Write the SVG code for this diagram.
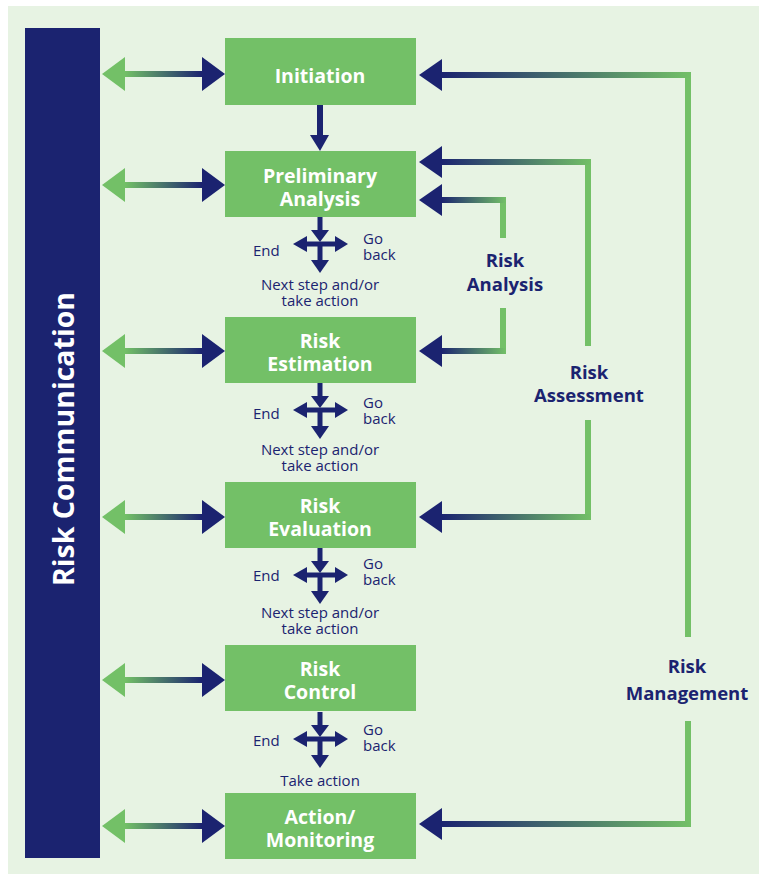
<svg xmlns="http://www.w3.org/2000/svg" width="759" height="874" viewBox="0 0 759 874">
<defs>
<linearGradient id="gL" gradientUnits="userSpaceOnUse" x1="125" y1="0" x2="202" y2="0">
<stop offset="0" stop-color="#73c067"/><stop offset="1" stop-color="#1b2370"/>
</linearGradient>
<linearGradient id="gR" x1="0" y1="0" x2="1" y2="0">
<stop offset="0" stop-color="#1b2370"/><stop offset="1" stop-color="#73c067"/>
</linearGradient>
<g id="lr">
<polygon points="102,0 125,-17 125,17" fill="#73c067"/>
<rect x="124" y="-3" width="79" height="6" fill="url(#gL)"/>
<polygon points="225,0 202,-17 202,17" fill="#1b2370"/>
</g>
<g id="cross" fill="#1b2370">
<rect x="-2.5" y="-27" width="5" height="14"/>
<polygon points="-9,-14 9,-14 0,-2"/>
<rect x="-14" y="-2.5" width="30" height="5"/>
<polygon points="-27,0 -13,-8 -13,8"/>
<polygon points="28,0 15,-8 15,8"/>
<rect x="-2.5" y="1" width="5" height="16"/>
<polygon points="-9,16 9,16 0,29"/>
</g>
<polygon id="hd" points="419,0 442,-16 442,16" fill="#1b2370"/>
</defs>
<style>
.box{fill:#73c067}
.bt{font-family:"Open Sans",Lato,"Liberation Sans",sans-serif;font-weight:bold;font-size:19.5px;fill:#ffffff;text-anchor:middle}
.st{font-family:"Open Sans",Lato,"Liberation Sans",sans-serif;font-size:15px;fill:#1b2370}
.mid{text-anchor:middle}
.lb{font-family:"Open Sans",Lato,"Liberation Sans",sans-serif;font-weight:bold;font-size:18.5px;fill:#1b2370;text-anchor:middle}
.gl{fill:#73c067}
</style>
<rect x="8" y="6" width="751" height="868" fill="#e7f3e3"/>
<g id="riskcomm">
<rect x="25" y="28" width="75" height="830" fill="#1b2370"/>
<text transform="translate(74,439) rotate(-90)" text-anchor="middle" font-family="'Open Sans',Lato,'Liberation Sans',sans-serif" font-weight="bold" font-size="28.5" fill="#ffffff">Risk Communication</text>
</g>
<g id="connectors">
<use href="#lr" y="74"/>
<use href="#lr" y="185"/>
<use href="#lr" y="351"/>
<use href="#lr" y="517"/>
<use href="#lr" y="680"/>
<use href="#lr" y="826"/>
<rect x="317" y="105" width="6" height="31" fill="#1b2370"/>
<polygon points="310,135 329,135 320,151" fill="#1b2370"/>
<use href="#cross" x="320" y="244"/>
<use href="#cross" x="320" y="410"/>
<use href="#cross" x="320" y="575"/>
<use href="#cross" x="320" y="739"/>
<rect class="gl" x="500" y="197" width="6" height="41"/>
<rect class="gl" x="500" y="308" width="6" height="46"/>
<rect x="441" y="197" width="65" height="6" fill="url(#gR)"/>
<rect x="441" y="348" width="65" height="6" fill="url(#gR)"/>
<use href="#hd" y="200"/>
<use href="#hd" y="351"/>
<rect class="gl" x="585" y="159" width="6" height="187"/>
<rect class="gl" x="585" y="420" width="6" height="100"/>
<rect x="441" y="159" width="150" height="6" fill="url(#gR)"/>
<rect x="441" y="514" width="150" height="6" fill="url(#gR)"/>
<use href="#hd" y="162"/>
<use href="#hd" y="517"/>
<rect class="gl" x="685" y="72" width="6" height="565"/>
<rect class="gl" x="685" y="721" width="6" height="106"/>
<rect x="441" y="72" width="250" height="6" fill="url(#gR)"/>
<rect x="441" y="821" width="250" height="6" fill="url(#gR)"/>
<use href="#hd" y="75"/>
<use href="#hd" y="824"/>
</g>
<g id="initiation"><rect class="box" x="225" y="38" width="191" height="67"/><text class="bt" x="320" y="83">Initiation</text></g>
<g id="preliminary"><rect class="box" x="225" y="151" width="191" height="66"/><text class="bt" x="320" y="183">Preliminary</text><text class="bt" x="320" y="206">Analysis</text></g>
<g id="estimation"><rect class="box" x="225" y="317" width="191" height="66"/><text class="bt" x="320" y="348">Risk</text><text class="bt" x="320" y="371">Estimation</text></g>
<g id="evaluation"><rect class="box" x="225" y="482" width="191" height="66"/><text class="bt" x="320" y="513">Risk</text><text class="bt" x="320" y="536">Evaluation</text></g>
<g id="control"><rect class="box" x="225" y="645" width="191" height="66"/><text class="bt" x="320" y="676">Risk</text><text class="bt" x="320" y="699">Control</text></g>
<g id="action"><rect class="box" x="225" y="793" width="191" height="66"/><text class="bt" x="320" y="824">Action/</text><text class="bt" x="320" y="847">Monitoring</text></g>
<g id="step1"><text class="st" x="253" y="256">End</text><text class="st" x="363" y="244">Go</text><text class="st" x="363" y="260">back</text><text class="st mid" x="320" y="290">Next step and/or</text><text class="st mid" x="320" y="306">take action</text></g>
<g id="step2"><text class="st" x="253" y="419">End</text><text class="st" x="363" y="408">Go</text><text class="st" x="363" y="424">back</text><text class="st mid" x="320" y="455">Next step and/or</text><text class="st mid" x="320" y="471">take action</text></g>
<g id="step3"><text class="st" x="253" y="581">End</text><text class="st" x="363" y="569">Go</text><text class="st" x="363" y="585">back</text><text class="st mid" x="320" y="618">Next step and/or</text><text class="st mid" x="320" y="634">take action</text></g>
<g id="step4"><text class="st" x="253" y="746">End</text><text class="st" x="363" y="735">Go</text><text class="st" x="363" y="751">back</text><text class="st mid" x="320" y="786">Take action</text></g>
<g id="lab-analysis"><text class="lb" x="505" y="267">Risk</text><text class="lb" x="505" y="291">Analysis</text></g>
<g id="lab-assessment"><text class="lb" x="589" y="379">Risk</text><text class="lb" x="589" y="402">Assessment</text></g>
<g id="lab-management"><text class="lb" x="687" y="673">Risk</text><text class="lb" x="687" y="700">Management</text></g>
</svg>
